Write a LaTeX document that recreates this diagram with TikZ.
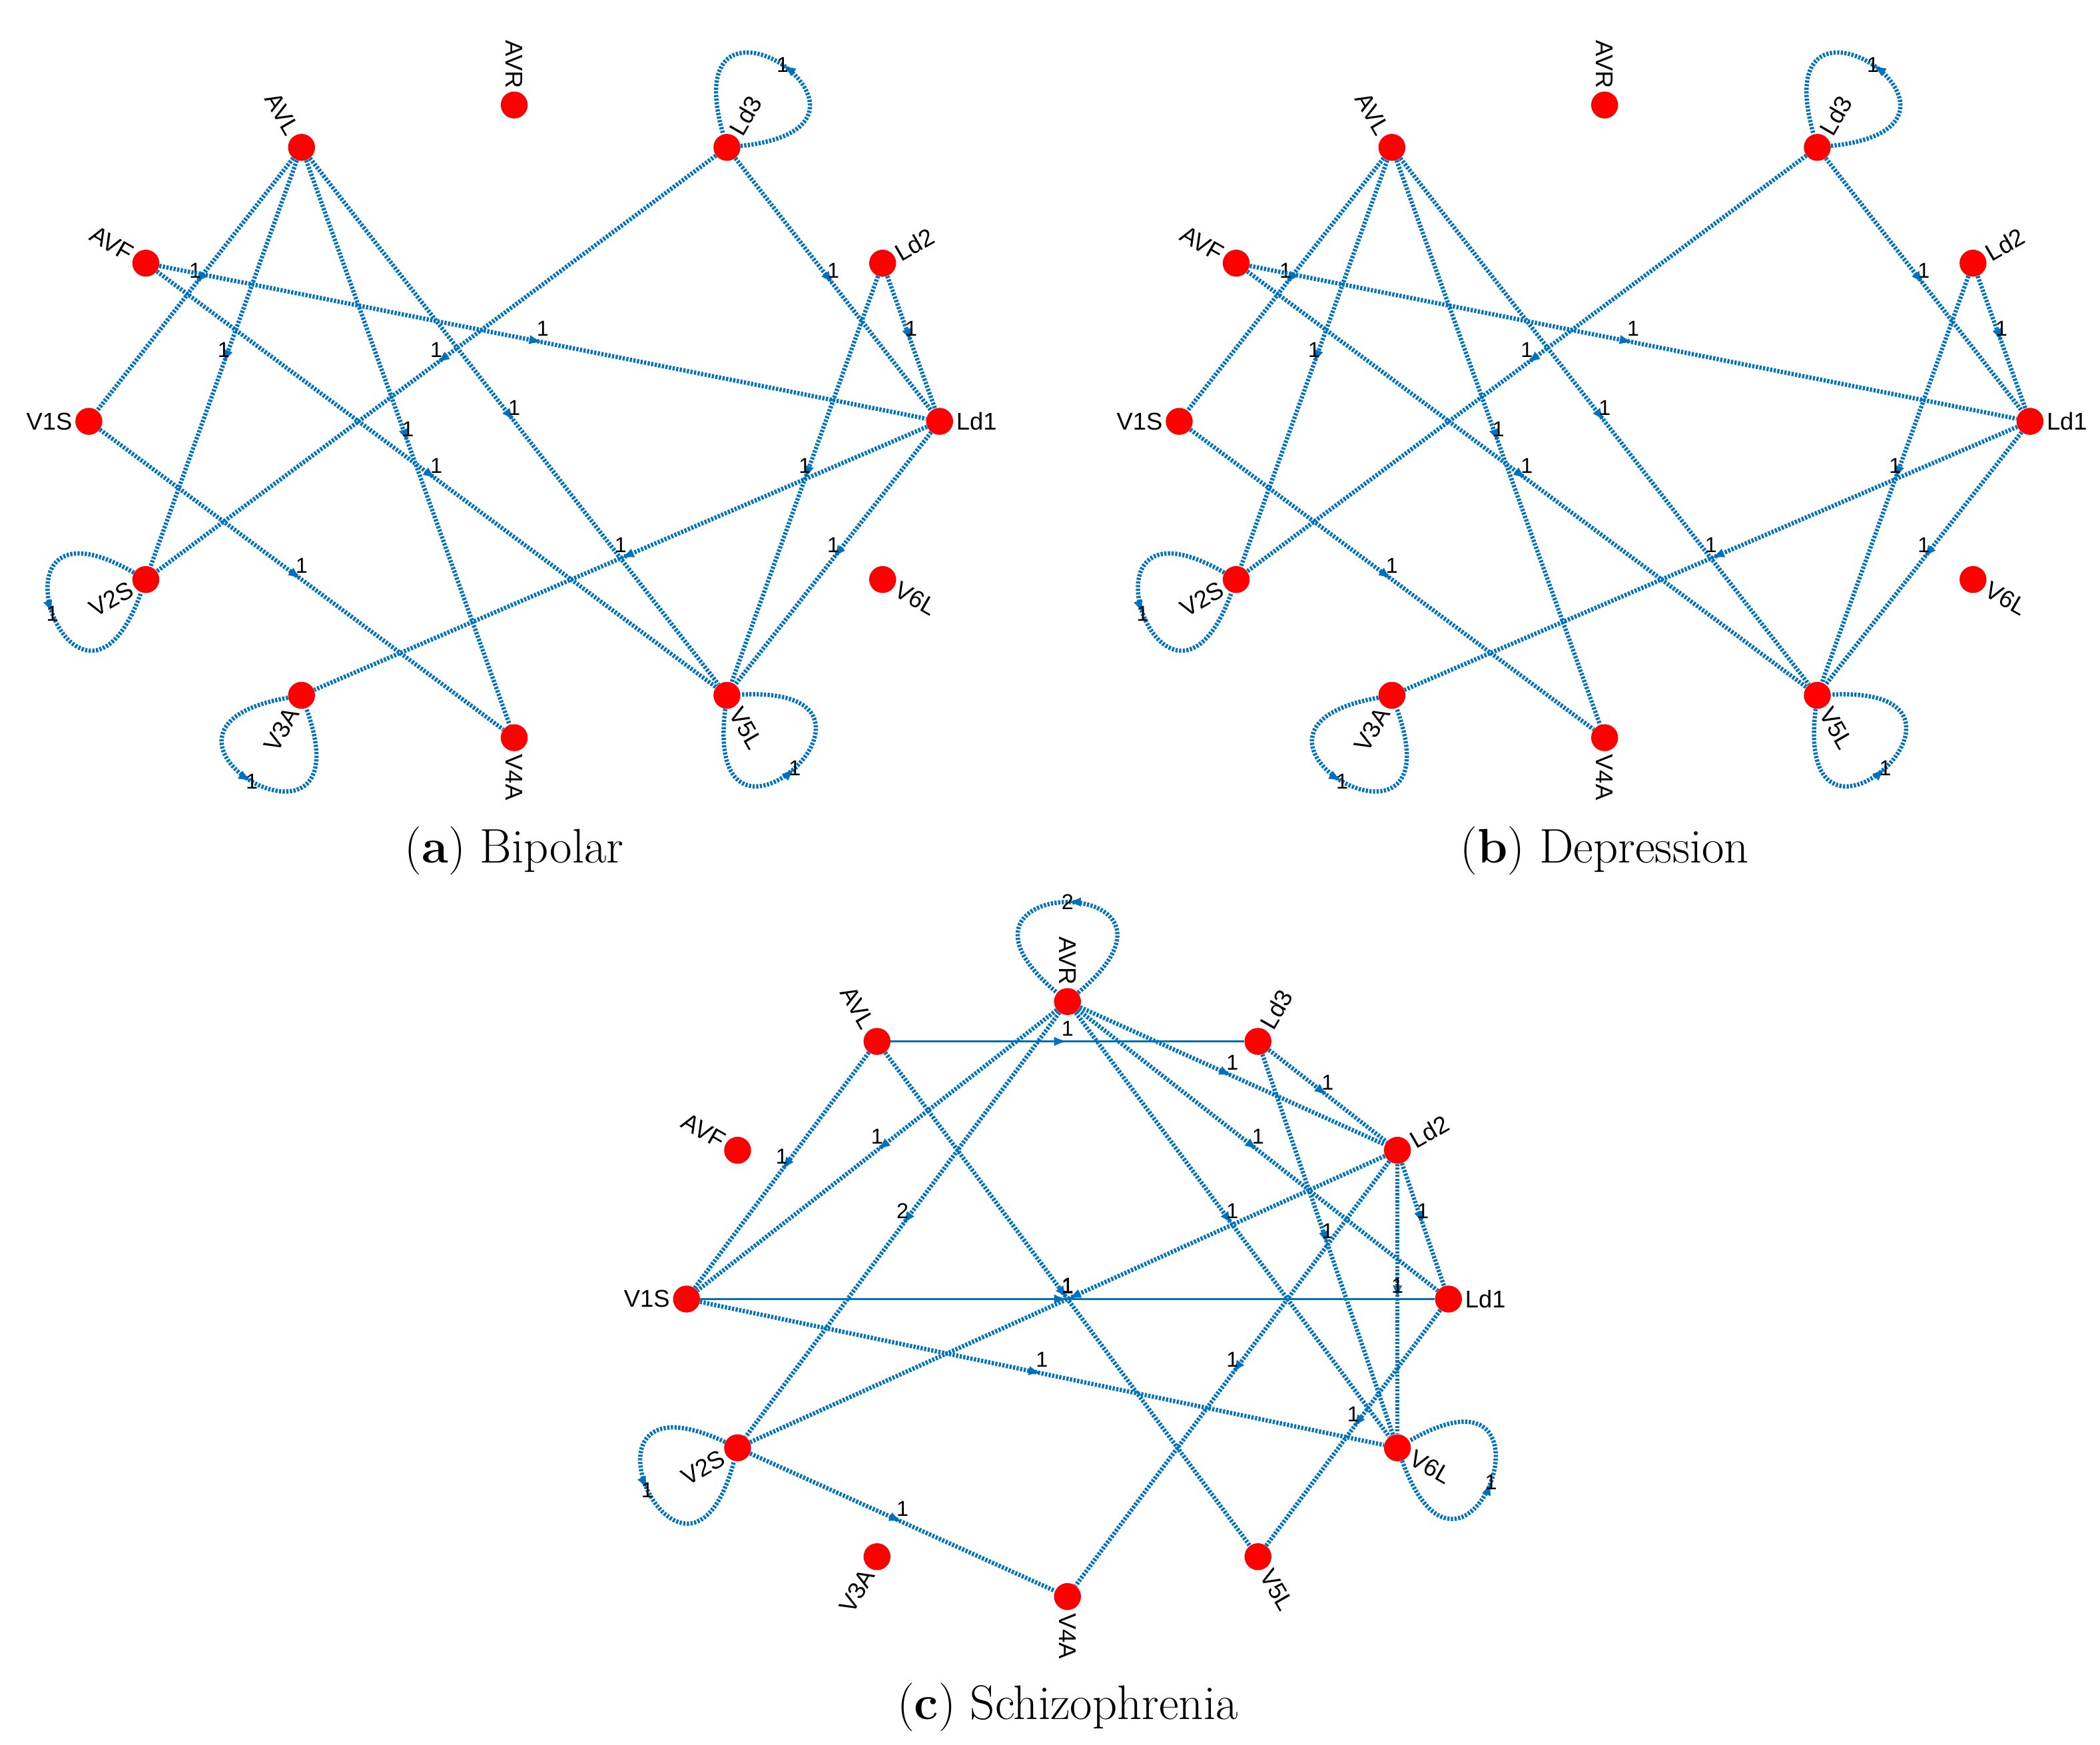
\documentclass[tikz,border=0pt]{standalone}
\usepackage{fontspec}
\newfontfamily\sansfont{Liberation Sans}
\usetikzlibrary{decorations.markings, arrows.meta}
\definecolor{edgeblue}{RGB}{0,114,189}
\tikzset{>=latex,
  vert/.style={circle, fill=red, inner sep=0pt, minimum size=20pt},
  vlabel/.style={font=\sansfont\fontsize{18}{18}\selectfont, inner sep=2pt},
  wt/.style={font=\sansfont\fontsize{16}{16}\selectfont, black, inner sep=3pt},
  midarrow/.style={postaction={decorate}, decoration={markings,
      mark=at position 0.5 with {\arrow[edgeblue, solid]{Latex[length=10pt, width=7pt]}}}},
  edge/.style={edgeblue, line width=3.2pt, dash pattern=on 1.6pt off 1.1pt, midarrow},
  plain/.style={edgeblue, line width=1.8pt, midarrow},
  caption/.style={font=\fontsize{36}{40}\selectfont}}
% vertices of one panel: prefix, centre x, centre y, radius x, radius y
\newcommand\placeverts[5]{%
  \foreach \n/\a/\r/\s in {Ld1/0/0/west, Ld2/30/30/west, Ld3/60/60/west,
      AVR/90/-90/east, AVL/120/-60/east, AVF/150/-30/east, V1S/180/0/east,
      V2S/210/30/east, V3A/240/60/east, V4A/270/-90/west, V5L/300/-60/west,
      V6L/330/-30/west}
  {\node[vert] (#1\n) at ({#2+#4*cos(\a)},{#3-#5*sin(\a)}) {};
   \node[vlabel, rotate=\r, anchor=\s] at (#1\n.\a) {\n};}}
% self loop: node, direction, weight
\newcommand\selfloop[3]{%
  \draw[edge] (#1) .. controls +(#2-50:150pt) and +(#2+50:150pt) .. node[wt, pos=0.5] {#3} (#1);}
\begin{document}
\begin{tikzpicture}[x=1pt, y=-1pt]
\useasboundingbox (0,0) rectangle (1560,1296);

% (a) Bipolar
\placeverts{a}{382}{313}{316}{235}
\foreach \u/\v in {AVL/V1S, AVL/V2S, AVL/V4A, AVL/V5L, AVF/Ld1, AVF/V5L,
    Ld3/V2S, Ld3/Ld1, Ld2/Ld1, Ld2/V5L, Ld1/V5L, Ld1/V3A, V1S/V4A}
  \draw[edge] (a\u) -- node[wt, above] {1} (a\v);
\selfloop{aLd3}{56}{1}
\selfloop{aV2S}{200}{1}
\selfloop{aV3A}{240}{1}
\selfloop{aV5L}{-47}{1}
\node[caption] (capa) at (382,632) {(\textbf{a}) Bipolar};

% (b) Depression
\placeverts{b}{1192}{313}{316}{235}
\foreach \u/\v in {AVL/V1S, AVL/V2S, AVL/V4A, AVL/V5L, AVF/Ld1, AVF/V5L,
    Ld3/V2S, Ld3/Ld1, Ld2/Ld1, Ld2/V5L, Ld1/V5L, Ld1/V3A, V1S/V4A}
  \draw[edge] (b\u) -- node[wt, above] {1} (b\v);
\selfloop{bLd3}{56}{1}
\selfloop{bV2S}{200}{1}
\selfloop{bV3A}{240}{1}
\selfloop{bV5L}{-47}{1}
\node[caption] (capb) at (1192,632) {(\textbf{b}) Depression};

% (c) Schizophrenia
\placeverts{c}{793}{965}{283}{221}
\foreach \u/\v/\w in {AVL/V1S/1, AVL/V5L/1, AVR/V1S/1, AVR/V2S/2, AVR/Ld2/1,
    AVR/Ld1/1, AVR/V6L/1, Ld3/Ld2/1, Ld3/V6L/1, Ld2/Ld1/1, Ld2/V6L/1,
    Ld2/V4A/1, Ld2/V2S/1, Ld1/V5L/1, V1S/V6L/1, V2S/V4A/1}
  \draw[edge] (c\u) -- node[wt, above] {\w} (c\v);
\draw[plain] (cAVL) -- node[wt, above] {1} (cLd3);
\draw[plain] (cV1S) -- node[wt, above] {1} (cLd1);
\selfloop{cAVR}{90}{2}
\selfloop{cV2S}{205}{1}
\selfloop{cV6L}{-20}{1}
\node[caption] (capc) at (793,1268) {(\textbf{c}) Schizophrenia};
\end{tikzpicture}
\end{document}
